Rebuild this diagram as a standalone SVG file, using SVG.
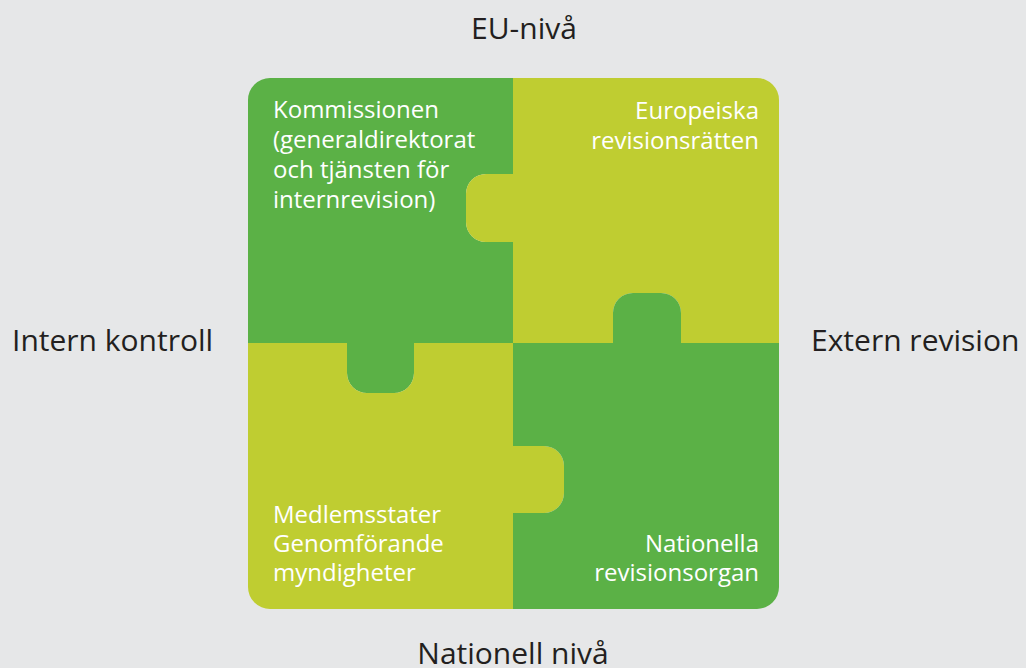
<svg xmlns="http://www.w3.org/2000/svg" width="1026" height="668" viewBox="0 0 1026 668">
<style>
.g{fill:#5bb146}
.y{fill:#bfcd31}
.in{font-family:"Open Sans","Noto Sans","Liberation Sans",sans-serif;font-size:24px;fill:#ffffff}
.out{font-family:"Open Sans","Noto Sans","Liberation Sans",sans-serif;font-size:30px;fill:#231f20}
.r{text-anchor:end}
.c{text-anchor:middle}
</style>
<rect width="1026" height="668" fill="#e6e7e8"/>
<g id="kommissionen">
<path class="g" d="M248 100 A22 22 0 0 1 270 78 H513 V174 H486 A20 20 0 0 0 466 194 V222 A20 20 0 0 0 486 242 H513 V343 H414 V373 A20 20 0 0 1 394 393 H367 A20 20 0 0 1 347 373 V343 H248 Z"/>
<text class="in" x="273" y="118">Kommissionen</text>
<text class="in" x="273" y="148">(generaldirektorat</text>
<text class="in" x="273" y="178">och tjänsten för</text>
<text class="in" x="273" y="208">internrevision)</text>
</g>
<g id="revisionsratten">
<path class="y" d="M513 78 H757 A22 22 0 0 1 779 100 V343 H681 V313 A20 20 0 0 0 661 293 H633 A20 20 0 0 0 613 313 V343 H513 V242 H486 A20 20 0 0 1 466 222 V194 A20 20 0 0 1 486 174 H513 Z"/>
<text class="in r" x="759" y="119">Europeiska</text>
<text class="in r" x="759" y="149">revisionsrätten</text>
</g>
<g id="medlemsstater">
<path class="y" d="M248 343 H347 V373 A20 20 0 0 0 367 393 H394 A20 20 0 0 0 414 373 V343 H513 V446 H544 A20 20 0 0 1 564 466 V493 A20 20 0 0 1 544 513 H513 V609 H270 A22 22 0 0 1 248 587 Z"/>
<text class="in" x="273" y="523">Medlemsstater</text>
<text class="in" x="273" y="552">Genomförande</text>
<text class="in" x="273" y="581">myndigheter</text>
</g>
<g id="nationella">
<path class="g" d="M513 343 H613 V313 A20 20 0 0 1 633 293 H661 A20 20 0 0 1 681 313 V343 H779 V587 A22 22 0 0 1 757 609 H513 V513 H544 A20 20 0 0 0 564 493 V466 A20 20 0 0 0 544 446 H513 Z"/>
<text class="in r" x="759" y="552">Nationella</text>
<text class="in r" x="759" y="581">revisionsorgan</text>
</g>
<g id="labels">
<text class="out c" x="524" y="39">EU-nivå</text>
<text class="out" x="12" y="351">Intern kontroll</text>
<text class="out" x="811" y="351">Extern revision</text>
<text class="out c" x="513" y="664">Nationell nivå</text>
</g>
</svg>
